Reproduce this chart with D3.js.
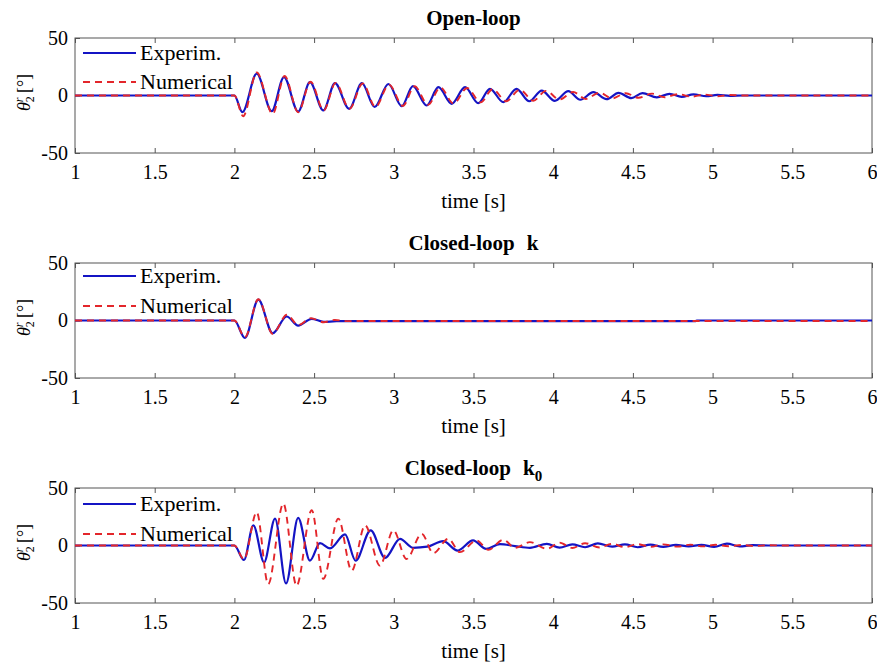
<!DOCTYPE html>
<html>
<head>
<meta charset="utf-8">
<script src="https://cdn.jsdelivr.net/npm/d3@7"></script>
<style>
  body { margin: 0; background: #fff; }
  svg { display: block; }
  text { font-family: "Liberation Serif", "Times New Roman", serif; fill: #000; }
</style>
</head>
<body>
<svg id="chart" width="877" height="664"></svg>
<script>
// Axis ticks and legend
const xTicks = [1, 1.5, 2, 2.5, 3, 3.5, 4, 4.5, 5, 5.5, 6];
const xTickLabels = ["1", "1.5", "2", "2.5", "3", "3.5", "4", "4.5", "5", "5.5", "6"];
const yTicks = [-50, 0, 50];
const legendLabels = ["Experim.", "Numerical"];
const panelTitles = ["Open-loop", "Closed-loop", "Closed-loop"];

// Open-loop response: turning points (time [s], angle [deg])
const openExpT = [1.0, 2.0, 2.05, 2.14, 2.234, 2.311, 2.40, 2.474, 2.558, 2.631, 2.72, 2.80, 2.88, 2.966, 3.05, 3.12, 3.206, 3.28, 3.363, 3.447, 3.53, 3.603, 3.687, 3.77, 3.85, 3.928, 4.01, 4.095, 4.17, 4.252, 4.335, 4.41, 4.49, 4.56, 4.65, 4.73, 4.806, 4.88, 4.96, 5.03, 5.11, 5.19, 6.0];
const openExpV = [0, 0, -14.5, 18.9, -13.6, 16.0, -14.0, 11.6, -13.0, 10.7, -11.6, 10.7, -10.0, 10.0, -9.3, 8.1, -8.7, 7.2, -7.2, 7.2, -6.7, 5.8, -5.8, 5.8, -5.0, 4.3, -4.6, 3.8, -3.7, 2.9, -3.2, 2.3, -2.3, 2.0, -1.7, 1.5, -1.2, 1.0, -0.6, 0.5, -0.3, 0, 0];
const openNumT = [1.0, 2.0, 2.055, 2.14, 2.24, 2.315, 2.40, 2.478, 2.56, 2.635, 2.722, 2.805, 2.885, 2.97, 3.057, 3.13, 3.215, 3.292, 3.375, 3.46, 3.545, 3.62, 3.705, 3.79, 3.875, 3.955, 4.04, 4.125, 4.205, 4.29, 4.37, 4.455, 4.535, 4.62, 4.70, 4.785, 4.865, 4.95, 5.03, 5.11, 5.2, 6.0];
const openNumV = [0, 0, -18.0, 20.0, -16.0, 17.0, -14.5, 12.0, -13.0, 11.0, -11.6, 10.5, -10.0, 9.5, -9.0, 8.0, -8.0, 7.0, -7.0, 6.5, -6.0, 5.5, -5.0, 5.0, -4.5, 4.0, -3.5, 3.0, -3.0, 2.5, -2.5, 2.0, -2.0, 1.6, -1.5, 1.2, -1.0, 0.8, -0.6, 0.4, 0, 0];

// Closed-loop with gain k
const clkExpT = [1.0, 2.0, 2.066, 2.15, 2.24, 2.328, 2.40, 2.485, 2.56, 2.64, 4.89, 4.90, 6.0];
const clkExpV = [0, 0, -15.2, 18.2, -11.1, 3.5, -4.4, 1.5, -1.2, -0.6, -0.6, 0, 0];
const clkNumT = [1.0, 2.0, 2.066, 2.15, 2.24, 2.33, 2.40, 2.48, 2.56, 2.63, 2.70, 6.0];
const clkNumV = [0, 0, -14.5, 18.5, -11.5, 5.0, -4.0, 2.0, -1.5, 0.5, -0.5, -0.4];

// Closed-loop with gain k0
const clk0ExpT = [1.0, 2.0, 2.06, 2.119, 2.186, 2.255, 2.324, 2.40, 2.474, 2.537, 2.60, 2.694, 2.76, 2.855, 2.945, 3.039, 3.12, 3.21, 3.31, 3.40, 3.497, 3.58, 3.666, 3.76, 3.854, 3.96, 4.04, 4.12, 4.20, 4.28, 4.37, 4.45, 4.53, 4.61, 4.69, 4.77, 4.85, 4.93, 5.01, 5.09, 5.17, 5.25, 5.35, 6.0];
const clk0ExpV = [0, 0, -12.6, 17.5, -14.6, 23.4, -33.0, 24.0, -13.2, 2.0, -2.5, 9.6, -13.2, 13.2, -10.8, 5.8, -2.0, -1.0, 3.8, -4.4, 4.4, -2.9, 1.2, -0.5, -2.0, 1.5, -1.8, 1.0, -1.5, 1.8, -1.0, 1.0, -1.5, 0.8, -1.2, 0.6, -0.8, 0.6, -1.2, 1.6, -0.8, 0.3, 0, 0];
const clk0NumT = [1.0, 2.0, 2.06, 2.14, 2.212, 2.307, 2.39, 2.485, 2.558, 2.652, 2.736, 2.82, 2.913, 2.997, 3.08, 3.175, 3.248, 3.342, 3.415, 3.52, 3.593, 3.687, 3.76, 3.854, 3.96, 4.04, 4.12, 4.20, 4.29, 4.37, 4.45, 4.53, 4.61, 4.69, 4.78, 4.86, 4.94, 5.02, 5.10, 5.18, 5.26, 5.35, 5.45, 6.0];
const clk0NumV = [0, 0, -12.0, 29.0, -33.6, 36.5, -35.0, 30.7, -29.0, 23.4, -21.9, 17.5, -17.5, 13.2, -11.7, 10.2, -6.7, 5.8, -5.8, 4.4, -3.8, 5.0, -2.0, 2.9, -2.9, 2.5, -2.2, 2.0, -1.8, 1.5, -1.5, 1.2, -1.2, 1.0, -1.0, 0.8, -0.8, 0.6, -0.6, 0.4, -0.4, 0.2, 0, 0];

const panels = [
  { top: 38,  title: panelTitles[0], gain: null, sub: null, exp: [openExpT, openExpV], num: [openNumT, openNumV], leg: [15, 44] },
  { top: 263, title: panelTitles[1], gain: "k",  sub: null, exp: [clkExpT, clkExpV],   num: [clkNumT, clkNumV],   leg: [13, 43] },
  { top: 488, title: panelTitles[2], gain: "k",  sub: "0",  exp: [clk0ExpT, clk0ExpV], num: [clk0NumT, clk0NumV], leg: [16, 46] }
];

const plotLeft = 75, plotRight = 872, plotH = 115;
const axisColor = "#555";
const blue = "#1414c4", red = "#e3262b";

const svg = d3.select("#chart");
const x = d3.scaleLinear().domain([1, 6]).range([plotLeft, plotRight]);
const zip = (t, v) => t.map((d, i) => [d, v[i]]);

panels.forEach(p => {
  const y = d3.scaleLinear().domain([-50, 50]).range([p.top + plotH, p.top]);
  const g = svg.append("g");

  // bottom axis with inward ticks and labels
  const bottom = g.append("g")
    .attr("transform", `translate(0,${p.top + plotH})`)
    .call(d3.axisBottom(x).tickValues(xTicks).tickFormat((d, i) => xTickLabels[i])
      .tickSizeInner(-5).tickSizeOuter(0).tickPadding(12));
  // top axis: ticks only
  const topAx = g.append("g")
    .attr("transform", `translate(0,${p.top})`)
    .call(d3.axisTop(x).tickValues(xTicks).tickFormat("").tickSizeInner(-5).tickSizeOuter(0));
  // left axis
  const left = g.append("g")
    .attr("transform", `translate(${plotLeft},0)`)
    .call(d3.axisLeft(y).tickValues(yTicks).tickFormat(d3.format("d"))
      .tickSizeInner(-5).tickSizeOuter(0).tickPadding(7));

  [bottom, topAx, left].forEach(a => {
    a.select(".domain").remove();
    a.selectAll("line").attr("stroke", axisColor);
    a.selectAll("text").attr("font-size", 20)
      .attr("font-family", "'Liberation Serif', 'Times New Roman', serif").attr("fill", "#000");
  });
  left.selectAll("text").text(d => d < 0 ? "-" + Math.abs(d) : d);

  // axes box
  g.append("rect")
    .attr("x", plotLeft).attr("y", p.top)
    .attr("width", plotRight - plotLeft).attr("height", plotH)
    .attr("fill", "none").attr("stroke", axisColor).attr("stroke-width", 1);

  // x label
  g.append("text")
    .attr("x", (plotLeft + plotRight) / 2).attr("y", p.top + plotH + 55)
    .attr("text-anchor", "middle").attr("font-size", 21)
    .text("time [s]");

  // title
  const t = g.append("text")
    .attr("x", (plotLeft + plotRight) / 2 + (p.gain ? 0 : 0)).attr("y", p.top - 13)
    .attr("text-anchor", "middle").attr("font-size", 21).attr("font-weight", "bold")
    .text(p.title);
  if (p.gain) {
    t.append("tspan").attr("dx", 12).text(p.gain);
    if (p.sub) t.append("tspan").attr("dy", 6).attr("font-size", 15).text(p.sub);
  }

  // y label
  const yl = g.append("text")
    .attr("transform", `translate(30,${p.top + plotH / 2 - 3}) rotate(-90)`)
    .attr("text-anchor", "middle").attr("font-size", 18);
  yl.append("tspan").attr("font-style", "italic").text("θ");
  yl.append("tspan").attr("font-size", 12).attr("dy", 4).text("2");
  yl.append("tspan").attr("font-size", 12).attr("font-style", "italic").attr("dx", -6).attr("dy", -11).text("r");
  yl.append("tspan").attr("dy", 7).text(" [°]");

  // series
  const line = d3.line().x(d => x(d[0])).y(d => y(d[1])).curve(d3.curveMonotoneX);
  const clip = "clip" + p.top;
  g.append("clipPath").attr("id", clip).append("rect")
    .attr("x", plotLeft).attr("y", p.top).attr("width", plotRight - plotLeft).attr("height", plotH);
  const plot = g.append("g").attr("clip-path", `url(#${clip})`);
  plot.append("path").datum(zip(p.exp[0], p.exp[1]))
    .attr("d", line).attr("fill", "none").attr("stroke", blue).attr("stroke-width", 2.2);
  plot.append("path").datum(zip(p.num[0], p.num[1]))
    .attr("d", line).attr("fill", "none").attr("stroke", red).attr("stroke-width", 1.9)
    .attr("stroke-dasharray", "7,5");

  // legend
  const lg = g.append("g");
  legendLabels.forEach((lab, i) => {
    const ly = p.top + p.leg[i];
    lg.append("line").attr("x1", plotLeft + 8).attr("x2", plotLeft + 61)
      .attr("y1", ly).attr("y2", ly)
      .attr("stroke", i === 0 ? blue : red).attr("stroke-width", i === 0 ? 2 : 1.9)
      .attr("stroke-dasharray", i === 0 ? null : "7,5");
    lg.append("text").attr("x", plotLeft + 65).attr("y", ly + 7)
      .attr("font-size", 22).text(lab);
  });
});
</script>
</body>
</html>
